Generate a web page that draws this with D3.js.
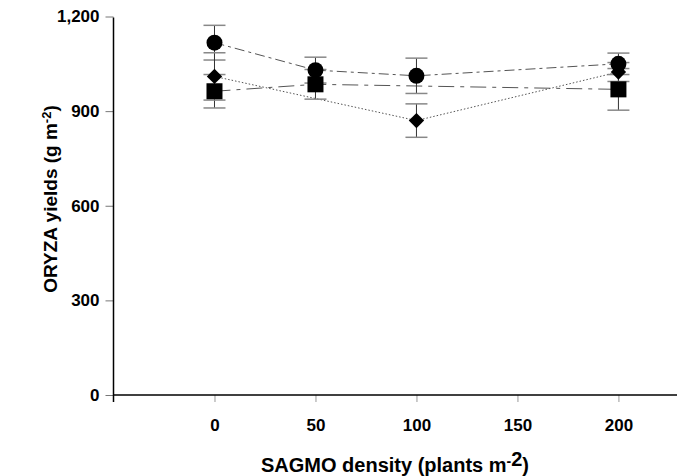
<!DOCTYPE html>
<html>
<head>
<meta charset="utf-8">
<script src="https://cdn.jsdelivr.net/npm/d3@7"></script>
<style>
  body { margin: 0; background: #fff; }
  text { font-family: "Liberation Sans", Arial, sans-serif; font-weight: bold; fill: #000; }
</style>
</head>
<body>
<svg id="chart" width="678" height="476"></svg>
<script>
// density levels and yields
var xTicks = [0, 50, 100, 150, 200];
var yTicks = [0, 300, 600, 900, 1200];

var circleX = [0, 50, 100, 200];
var circleY = [1117, 1030, 1012, 1050];
var circleErr = [55, 41, 56, 34];

var squareX = [0, 50, 200];
var squareY = [963, 985, 969];
var squareErr = [53, 47, 66];

var diamondX = [0, 100, 200];
var diamondY = [1010, 870, 1024];
var diamondErr = [75, 53, 30];

var svg = d3.select("#chart");
var plotLeft = 113.5, plotRight = 677, plotTop = 16.5, plotBottom = 395;

var x = d3.scaleLinear().domain([-50, 229]).range([plotLeft, plotRight]);
var y = d3.scaleLinear().domain([0, 1200]).range([plotBottom, plotTop]);

// y axis
var yAxis = svg.append("g")
    .attr("transform", "translate(" + plotLeft + ",0)")
    .call(d3.axisLeft(y).tickValues(yTicks).tickFormat(d3.format(",")).tickSize(8).tickPadding(6));
yAxis.select(".domain").remove();
yAxis.selectAll(".tick line").attr("stroke", "#777");
yAxis.selectAll(".tick text").style("font-size", "17px");
svg.append("line")
    .attr("x1", plotLeft).attr("x2", plotLeft)
    .attr("y1", y(1200) + 1).attr("y2", plotBottom + 7)
    .attr("stroke", "#000").attr("stroke-width", 1.5);

// x axis
var xAxis = svg.append("g")
    .attr("transform", "translate(0," + plotBottom + ")")
    .call(d3.axisBottom(x).tickValues(xTicks).tickSize(7).tickPadding(17));
xAxis.select(".domain").remove();
xAxis.selectAll(".tick line").attr("stroke", "#999");
xAxis.selectAll(".tick text").style("font-size", "17px");
svg.append("line")
    .attr("x1", plotLeft).attr("x2", plotRight)
    .attr("y1", plotBottom).attr("y2", plotBottom)
    .attr("stroke", "#000").attr("stroke-width", 1.5);

// axis titles
var xt = svg.append("text")
    .attr("x", 395).attr("y", 472)
    .attr("text-anchor", "middle")
    .style("font-size", "20px");
xt.append("tspan").text("SAGMO density (plants m");
xt.append("tspan").attr("dy", -6).style("font-size", "14px").text("-");
xt.append("tspan").style("font-size", "20px").text("2");
xt.append("tspan").attr("dy", 6).text(")");

var yt = svg.append("text")
    .attr("transform", "translate(57,199) rotate(-90)")
    .attr("text-anchor", "middle")
    .style("font-size", "19px");
yt.append("tspan").text("ORYZA yields (g m");
yt.append("tspan").attr("dy", -6).style("font-size", "13px").text("-2");
yt.append("tspan").attr("dy", 6).text(")");

// diamond drawn as a square turned 45 degrees
var series = [
  { xs: circleX, ys: circleY, es: circleErr, shape: d3.symbolCircle, size: 200, rot: 0, dash: "10,4,3,4" },
  { xs: squareX, ys: squareY, es: squareErr, shape: d3.symbolSquare, size: 256, rot: 0, dash: "16,6,4,6" },
  { xs: diamondX, ys: diamondY, es: diamondErr, shape: d3.symbolSquare, size: 118, rot: 45, dash: "1.5,2" }
];

var line = d3.line().x(d => x(d.x)).y(d => y(d.y));

series.forEach(s => {
  s.pts = s.xs.map((v, i) => ({ x: v, y: s.ys[i], e: s.es[i] }));
  svg.append("path")
    .datum(s.pts)
    .attr("d", line)
    .attr("fill", "none")
    .attr("stroke", "#555")
    .attr("stroke-width", 1)
    .attr("stroke-dasharray", s.dash);
});

// error bars
series.forEach(s => {
  var g = svg.append("g");
  g.selectAll(".v").data(s.pts).enter().append("line")
    .attr("x1", d => x(d.x)).attr("x2", d => x(d.x))
    .attr("y1", d => y(d.y + d.e)).attr("y2", d => y(d.y - d.e))
    .attr("stroke", "#333").attr("stroke-width", 1);
  [1, -1].forEach(sign => {
    g.selectAll(".c" + sign).data(s.pts).enter().append("line")
      .attr("x1", d => x(d.x) - 11).attr("x2", d => x(d.x) + 11)
      .attr("y1", d => y(d.y + sign * d.e)).attr("y2", d => y(d.y + sign * d.e))
      .attr("stroke", "#888").attr("stroke-width", 1.5);
  });
});

// markers
series.forEach(s => {
  svg.append("g").selectAll("path").data(s.pts).enter().append("path")
    .attr("transform", d => "translate(" + x(d.x) + "," + y(d.y) + ") rotate(" + s.rot + ")")
    .attr("d", d3.symbol().type(s.shape).size(s.size))
    .attr("fill", "#000");
});
</script>
</body>
</html>
